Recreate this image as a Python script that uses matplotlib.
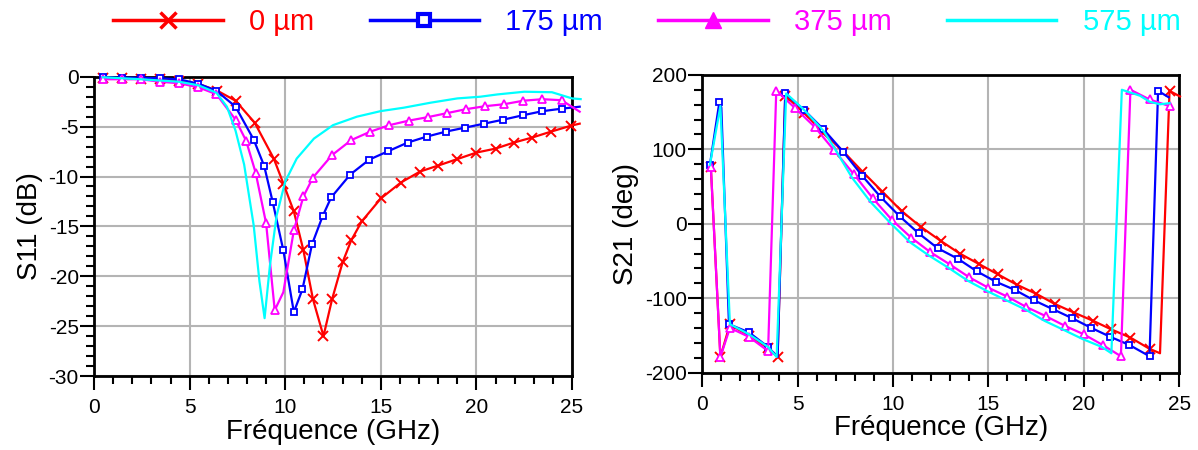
import matplotlib
matplotlib.use("Agg")
import matplotlib.pyplot as plt
from matplotlib.lines import Line2D
from matplotlib.ticker import MultipleLocator

plt.rcParams["font.family"] = ["Liberation Sans", "DejaVu Sans"]
plt.rcParams["axes.unicode_minus"] = False

LABELS = ["0 µm", "175 µm", "375 µm", "575 µm"]
COLORS = ["#ff0000", "#0000ff", "#ff00ff", "#00ffff"]

# --- S11 (dB) vs frequency (GHz) ---
s11_f_0 = [0.45, 1.45, 2.45, 3.45, 4.45, 5.45, 6.45, 7.4, 8.4, 9.4, 9.9, 10.45, 10.95,
           11.45, 12.0, 12.45, 13.0, 13.45, 14.0, 15.0, 16.05, 17.05, 18.0, 19.0, 20.0,
           21.0, 21.95, 22.9, 23.9, 24.95, 25.4]
s11_v_0 = [-0.1, -0.15, -0.2, -0.25, -0.4, -0.7, -1.4, -2.4, -4.6, -8.2, -10.7, -13.5, -17.4,
           -22.3, -26.0, -22.3, -18.6, -16.4, -14.5, -12.2, -10.6, -9.5, -8.9, -8.25, -7.6,
           -7.2, -6.6, -6.1, -5.5, -4.9, -4.7]

s11_f_175 = [0.45, 1.45, 2.45, 3.45, 4.45, 5.45, 6.4, 7.4, 8.35, 8.9, 9.35, 9.9, 10.45, 10.9,
             11.4, 11.95, 12.4, 13.4, 14.4, 15.4, 16.4, 17.4, 18.4, 19.4, 20.4, 21.4, 22.45,
             23.45, 24.45, 25.4]
s11_v_175 = [-0.05, -0.1, -0.1, -0.15, -0.25, -0.7, -1.4, -3.0, -6.3, -8.95, -12.6, -17.4,
             -23.6, -21.3, -16.8, -14.0, -12.1, -9.8, -8.3, -7.45, -6.6, -6.0, -5.5, -5.1,
             -4.7, -4.3, -3.85, -3.45, -3.2, -3.0]

s11_f_375 = [0.45, 1.45, 2.45, 3.45, 4.45, 5.45, 6.4, 7.4, 7.95, 8.45, 9.0, 9.45, 9.9, 10.45,
             10.95, 11.45, 12.45, 13.45, 14.45, 15.45, 16.45, 17.45, 18.45, 19.45, 20.45,
             21.45, 22.45, 23.45, 24.45, 25.4]
s11_v_375 = [-0.25, -0.25, -0.25, -0.5, -0.65, -1.05, -1.75, -4.3, -6.4, -9.6, -14.7, -23.4,
             -21.6, -15.4, -12.0, -10.1, -7.85, -6.35, -5.5, -4.85, -4.4, -4.05, -3.65, -3.25,
             -2.95, -2.75, -2.4, -2.25, -2.35, -3.5]

s11_f_575 = [0.45, 2.45, 4.45, 5.45, 6.4, 6.95, 7.4, 7.85, 8.35, 8.65, 8.92, 9.2, 9.55, 10.0,
             10.6, 11.5, 12.5, 13.75, 15.0, 16.2, 17.6, 19.0, 20.2, 21.1, 22.5, 23.95, 25.0,
             25.45]
s11_v_575 = [-0.05, -0.25, -0.5, -0.85, -1.6, -3.0, -5.4, -8.8, -14.9, -20.5, -24.2, -18.9,
             -13.9, -10.5, -8.2, -6.2, -4.85, -4.0, -3.44, -3.1, -2.6, -2.17, -2.0, -1.77,
             -1.5, -1.55, -2.17, -2.24]

# --- S21 phase (deg) vs frequency (GHz) ---
s21_f_0 = [0.45, 0.95, 1.45, 2.45, 3.45, 3.95, 4.35, 5.35, 6.35, 7.4, 8.4, 9.45, 10.45, 11.45,
           12.5, 13.5, 14.5, 15.5, 16.5, 17.5, 18.5, 19.5, 20.5, 21.45, 22.45, 23.45, 24.0,
           24.5, 25.05]
s21_v_0 = [76, -179, -135, -151, -167, -179, 172, 149, 122, 97, 70, 43, 17, -4, -23, -40, -54,
           -68, -82, -94, -108, -119.5, -130.5, -142, -153, -168, -174, 178.5, 171]

s21_f_175 = [0.4, 0.9, 1.0, 1.4, 2.45, 3.45, 3.95, 4.35, 5.35, 6.35, 7.4, 8.4, 9.35, 10.35,
             11.35, 12.35, 13.4, 14.4, 15.4, 16.4, 17.4, 18.4, 19.4, 20.4, 21.4, 22.4, 23.45,
             23.9, 24.45]
s21_v_175 = [79, 164, 156, -135, -146, -165.5, -179, 175, 152.5, 127, 96.5, 64, 36, 10, -13,
             -33, -47, -64, -78, -89, -103, -115, -127, -140, -152, -163, -178, 178.5, 170]

s21_f_375 = [0.45, 0.95, 1.45, 2.45, 3.45, 3.88, 4.88, 5.9, 6.9, 7.95, 8.95, 9.95, 10.95,
             11.95, 13.0, 14.0, 15.0, 16.0, 17.0, 18.0, 19.0, 20.0, 21.0, 21.95, 22.45, 23.45,
             24.5]
s21_v_375 = [76, -179, -140, -152, -171, 179, 155, 130, 99, 66.5, 34, 5, -18.6, -38, -55, -72,
             -86, -98, -112, -124, -137, -148.5, -163, -178, 180, 167, 158]

s21_f_575 = [0.4, 0.95, 1.45, 2.45, 3.45, 3.9, 4.4, 5.3, 6.35, 6.85, 7.85, 8.85, 9.9, 10.9,
             11.9, 12.9, 13.95, 14.9, 15.95, 17.0, 17.95, 18.9, 19.95, 20.95, 21.45, 22.0,
             22.95, 23.45, 24.0, 24.5]
s21_v_575 = [79, 158, -135, -148.5, -165.5, -179, 175, 154, 125, 105, 62, 28.5, 0, -25, -43,
             -59, -77, -90, -103, -116, -130.5, -142, -155, -165.5, -174, 180, 172, 164, 160.5,
             162]

# line corners that carry no marker
S11_SKIP = [[25.4], [25.4], [9.9, 25.4], []]
S21_SKIP = [[24.0, 25.05], [1.0, 3.95, 24.45], [], []]

MARKERS = [
    dict(marker="x", ms=6.5, mew=1.4),
    dict(marker="s", ms=4, mew=1.3, mfc="white"),
    dict(marker="^", ms=5.5, mew=1.3, mfc="white"),
    dict(marker=None),
]


def trace(ax, f, v, i, skip):
    idx = [k for k, x in enumerate(f) if x not in skip]
    ax.plot(f, v, color=COLORS[i], lw=1.6, markevery=idx, clip_on=False, zorder=3 + i * 0.1,
            **MARKERS[i])


def style(ax, ylim, ymaj, ymin, ylabel):
    ax.set_xlim(0, 25)
    ax.set_ylim(*ylim)
    ax.xaxis.set_major_locator(MultipleLocator(5))
    ax.xaxis.set_minor_locator(MultipleLocator(1))
    ax.yaxis.set_major_locator(MultipleLocator(ymaj))
    ax.yaxis.set_minor_locator(MultipleLocator(ymin))
    ax.grid(True, which="major", color="#b4b4b4", lw=1.5, zorder=0)
    ax.set_axisbelow(True)
    for s in ax.spines.values():
        s.set_linewidth(2)
    ax.tick_params(which="major", length=10, width=1.5, labelsize=15, direction="out")
    ax.tick_params(which="minor", length=5.5, width=1.5, direction="out")
    ax.tick_params(axis="y", pad=1)
    ax.tick_params(axis="x", pad=6)
    ax.set_xlabel("Fréquence (GHz)", fontsize=20, labelpad=1)
    ax.set_ylabel(ylabel, fontsize=20, labelpad=4)


fig = plt.figure(figsize=(11.98, 4.5), dpi=100)
ax1 = fig.add_axes([0.0785, 0.1644, 0.399, 0.665])
ax2 = fig.add_axes([0.5862, 0.172, 0.398, 0.6616])

s11 = [(s11_f_0, s11_v_0), (s11_f_175, s11_v_175), (s11_f_375, s11_v_375), (s11_f_575, s11_v_575)]
s21 = [(s21_f_0, s21_v_0), (s21_f_175, s21_v_175), (s21_f_375, s21_v_375), (s21_f_575, s21_v_575)]

for i, (f, v) in enumerate(s11):
    trace(ax1, f, v, i, S11_SKIP[i])
for i, (f, v) in enumerate(s21):
    trace(ax2, f, v, i, S21_SKIP[i])

style(ax1, (-30, 0), 5, 1, "S11 (dB)")
style(ax2, (-200, 200), 100, 20, "S21 (deg)")

handles = [
    Line2D([], [], color=COLORS[0], lw=2.5, marker="x", ms=12, mew=2.5),
    Line2D([], [], color=COLORS[1], lw=2.5, marker="s", ms=9, mew=3, mfc="white"),
    Line2D([], [], color=COLORS[2], lw=2.5, marker="^", ms=11),
    Line2D([], [], color=COLORS[3], lw=2.5),
]
leg = fig.legend(handles, LABELS, loc="center", bbox_to_anchor=(0.54, 0.951), ncol=4,
                 frameon=False, fontsize=21, handlelength=3.75, handletextpad=0.9,
                 columnspacing=1.9)
for t, c in zip(leg.get_texts(), COLORS):
    t.set_color(c)

fig.savefig("out.png", dpi=100)
